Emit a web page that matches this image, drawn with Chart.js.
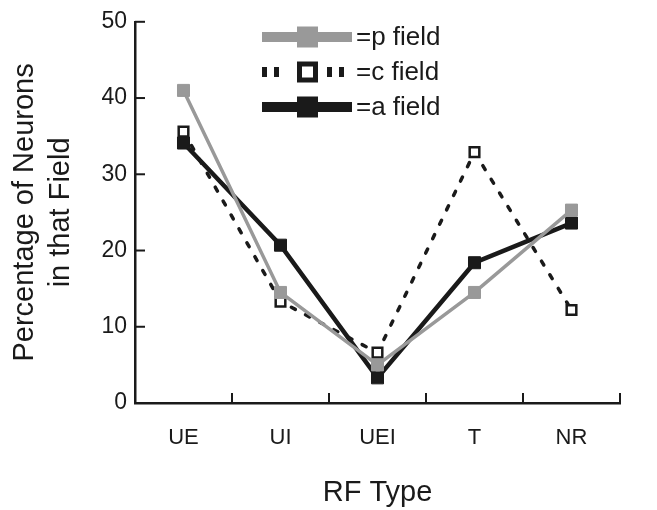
<!DOCTYPE html>
<html>
<head>
<meta charset="utf-8">
<script src="https://cdn.jsdelivr.net/npm/chart.js@4"></script>
<style>
html,body{margin:0;padding:0;background:#fff;}
#wrap{width:657px;height:510px;}
</style>
</head>
<body>
<div id="wrap"><canvas id="mycanvas" width="657" height="510"></canvas></div>
<script>
// RF types on the x axis
var rfTypes = ['UE', 'UI', 'UEI', 'T', 'NR'];
// percentage of neurons per field
var pField = [41.0, 14.5, 5.0, 14.5, 25.3];
var cField = [35.6, 13.3, 6.6, 32.9, 12.2];
var aField = [34.1, 20.7, 3.3, 18.4, 23.6];
var yTicks = [0, 10, 20, 30, 40, 50];
var legendNames = ['=p field', '=c field', '=a field'];

var GRAY = '#999999';
var BLACK = '#1a1a1a';
var FONT = "'Liberation Sans', Arial, Helvetica, sans-serif";

// little inward ticks + the custom legend
var extras = {
	id: 'extras',
	beforeDatasetsDraw: function(chart){
		var ctx = chart.ctx;
		var x = chart.scales.x, y = chart.scales.y;
		var area = chart.chartArea;
		ctx.save();
		ctx.strokeStyle = BLACK;
		ctx.lineWidth = 2;
		for (var i = 0; i < rfTypes.length; i++) {
			var px = x.getPixelForValue(i + 0.5);
			ctx.beginPath();
			ctx.moveTo(px, area.bottom);
			ctx.lineTo(px, area.bottom - 10);
			ctx.stroke();
		}
		for (var j = 1; j < yTicks.length; j++) {
			var py = y.getPixelForValue(yTicks[j]);
			ctx.beginPath();
			ctx.moveTo(area.left, py);
			ctx.lineTo(area.left + 10, py);
			ctx.stroke();
		}
		ctx.restore();
	},
	afterDraw: function(chart){
		var ctx = chart.ctx;
		var x0 = 262, x1 = 352, mx = 307.5, rowY = [37, 72, 107];
		ctx.save();
		// p field
		ctx.lineWidth = 10;
		ctx.strokeStyle = GRAY;
		ctx.beginPath(); ctx.moveTo(x0, rowY[0]); ctx.lineTo(x1, rowY[0]); ctx.stroke();
		ctx.fillStyle = GRAY;
		ctx.fillRect(mx - 10.5, rowY[0] - 10.5, 21, 21);
		// c field
		ctx.strokeStyle = BLACK;
		ctx.setLineDash([5, 7]);
		ctx.beginPath(); ctx.moveTo(x0, rowY[1]); ctx.lineTo(x0 + 20, rowY[1]); ctx.stroke();
		ctx.beginPath(); ctx.moveTo(x1 - 25, rowY[1]); ctx.lineTo(x1 - 5, rowY[1]); ctx.stroke();
		ctx.setLineDash([]);
		ctx.fillStyle = '#fff';
		ctx.fillRect(mx - 8, rowY[1] - 8, 16, 16);
		ctx.lineWidth = 5;
		ctx.strokeRect(mx - 8, rowY[1] - 8, 16, 16);
		// a field
		ctx.lineWidth = 10;
		ctx.beginPath(); ctx.moveTo(x0, rowY[2]); ctx.lineTo(x1, rowY[2]); ctx.stroke();
		ctx.fillStyle = BLACK;
		ctx.fillRect(mx - 10.5, rowY[2] - 10.5, 21, 21);
		// names
		ctx.fillStyle = BLACK;
		ctx.font = '26px ' + FONT;
		ctx.textBaseline = 'middle';
		ctx.textAlign = 'left';
		for (var k = 0; k < legendNames.length; k++) {
			ctx.fillText(legendNames[k], 356, rowY[k] + 1);
		}
		ctx.restore();
	}
};

var chartdata = {
	labels: rfTypes,
	datasets: [
	{
		label: 'p field',
		data: pField,
		borderColor: GRAY,
		backgroundColor: GRAY,
		borderWidth: 3.5,
		pointStyle: 'rect',
		pointRadius: 8.5,
		pointBorderWidth: 1,
		pointBackgroundColor: GRAY,
		pointBorderColor: GRAY
	},
	{
		label: 'c field',
		data: cField,
		borderColor: BLACK,
		backgroundColor: '#fff',
		borderWidth: 3.5,
		borderDash: [4.5, 11.5],
		borderCapStyle: 'round',
		pointStyle: 'rect',
		pointRadius: 6.8,
		pointBorderWidth: 2.5,
		pointBackgroundColor: '#fff',
		pointBorderColor: BLACK
	},
	{
		label: 'a field',
		data: aField,
		borderColor: BLACK,
		backgroundColor: BLACK,
		borderWidth: 4.5,
		pointStyle: 'rect',
		pointRadius: 8.5,
		pointBorderWidth: 1,
		pointBackgroundColor: BLACK,
		pointBorderColor: BLACK
	}
	]
};

var ctx = document.getElementById('mycanvas');
var lineGraph = new Chart(ctx, {
	type: 'line',
	data: chartdata,
	plugins: [extras],
	options: {
		responsive: false,
		animation: false,
		layout: { padding: { top: 21, right: 37, left: 0, bottom: 0 } },
		plugins: { legend: { display: false }, tooltip: { enabled: false } },
		elements: { line: { tension: 0 } },
		scales: {
			x: {
				offset: true,
				grid: { display: false, offset: true, drawTicks: false },
				border: { display: true, color: BLACK, width: 2.5 },
				ticks: { color: BLACK, padding: 22, font: { family: FONT, size: 22 } },
				title: { display: true, text: 'RF Type', color: BLACK, padding: { top: 0, bottom: 0 }, font: { family: FONT, size: 29 } },
				afterFit: function(scale){ scale.height = 107; }
			},
			y: {
				min: 0,
				max: 50,
				grid: { display: false, drawTicks: false },
				border: { display: true, color: BLACK, width: 2.5 },
				afterBuildTicks: function(scale){
					scale.ticks = yTicks.map(function(v){ return { value: v }; });
				},
				ticks: { color: BLACK, padding: 8, font: { family: FONT, size: 23 } },
				title: { display: true, text: ['Percentage of Neurons', 'in that Field'], color: BLACK, padding: { top: 7, bottom: 0 }, font: { family: FONT, size: 29, lineHeight: 1.25 } },
				afterFit: function(scale){ scale.width = 135; }
			}
		}
	}
});
</script>
</body>
</html>
